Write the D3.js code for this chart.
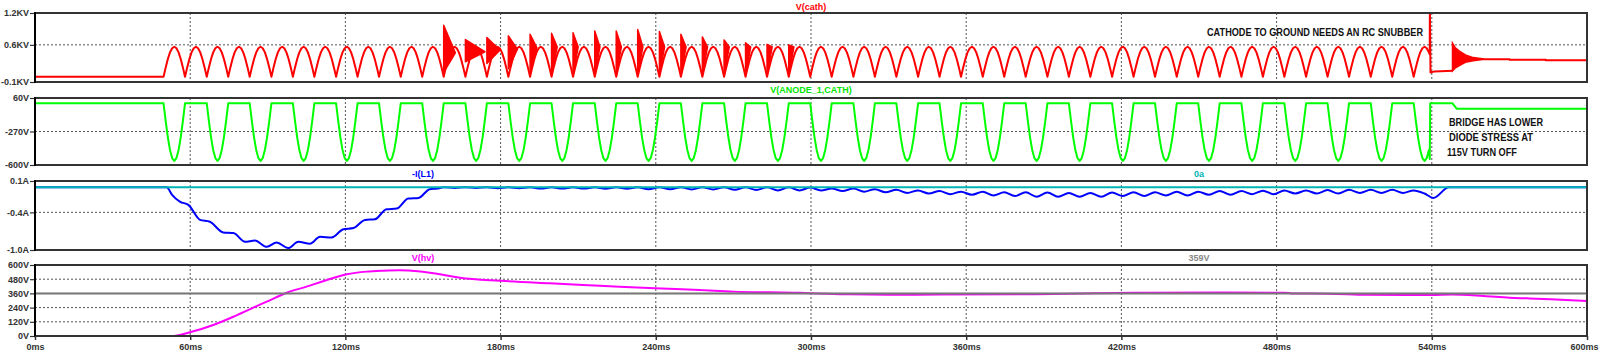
<!DOCTYPE html>
<html><head><meta charset="utf-8">
<script src="https://cdn.jsdelivr.net/npm/d3@7"></script>
<style>
body{margin:0;background:#fff}
text{font-family:"Liberation Sans",Arial,sans-serif}
</style>
</head><body>
<svg id="c" width="1600" height="358"></svg>
<script>
// ---------------- DATA ----------------
const xTicks = [0,60,120,180,240,300,360,420,480,540,600];
const xTickLabels = ["0ms","60ms","120ms","180ms","240ms","300ms","360ms","420ms","480ms","540ms","600ms"];

const cathTicks = [1.2,0.6,-0.1];
const cathTickLabels = ["1.2KV","0.6KV","-0.1KV"];
const anodeTicks = [60,-270,-600];
const anodeTickLabels = ["60V","-270V","-600V"];
const curTicks = [0.1,-0.4,-1.0];
const curTickLabels = ["0.1A","-0.4A","-1.0A"];
const hvTicks = [600,480,360,240,120,0];
const hvTickLabels = ["600V","480V","360V","240V","120V","0V"];

// rectifier half-cycle boundaries (ms) read from the troughs of V(cath)
const troughs = [49.7,58.0,66.4,74.7,83.0,91.4,99.7,108.0,116.4,124.7,
  133.0,141.4,149.7,158.0,166.4,174.7,183.0,191.4,199.7,208.0,
  216.4,224.7,233.0,241.4,249.7,258.0,266.4,274.7,283.0,291.4,
  299.7,308.0,316.4,324.7,333.0,341.4,349.7,358.0,366.4,374.7,
  383.0,391.4,399.7,408.0,416.4,424.7,433.0,441.4,449.7,458.0,
  466.4,474.7,483.0,491.4,499.7,508.0,516.4,524.7,533.0,541.4];
// half-sine hump outline (fraction of the half-cycle, relative height)
const humpFrac  = [0,0.1,0.2,0.3,0.4,0.5,0.6,0.7,0.8,0.9,1];
const humpShape = [0,0.31,0.59,0.81,0.95,1,0.95,0.81,0.59,0.31,0];

// V(cath) in kV
const cathBase = 0.0, cathPeak = 0.565, cathCut = 539.2;
const spikeHump = [13,14,15,16,17,18,19,20,21,22,23,24,25,26,27,28,29];
const spikeTop  = [0.97,0.70,0.74,0.77,0.80,0.82,0.83,0.86,0.86,0.89,0.85,0.80,0.75,0.69,0.64,0.61,0.60];
const spikeBot  = [0.08,0.28,0.25,0.15,0.06,0.04,0.03,0.03,0.03,0.03,0.03,0.03,0.03,0.03,0.03,0.03,0.03];
const spikeLen  = [4.5,7.5,5.0,3.5,2.6,2.2,2.0,2.0,2.0,2.0,2.0,2.0,2.0,2.0,2.0,2.0,2.0];
const spikeEnd  = [0.45,0.47,0.50,0.52,0.55,0.56,0.56,0.56,0.56,0.56,0.56,0.56,0.56,0.56,0.56,0.56,0.56];
const cathTailT = [539.2,539.25,539.5,541.0,548.0];
const cathTailV = [0.42,1.35,0.08,0.10,0.11];
const ringT     = [548.0,549.0,551.0,553.0,556.0,560.0];
const ringHi    = [0.63,0.55,0.47,0.41,0.36,0.335];
const ringLo    = [0.11,0.16,0.22,0.27,0.30,0.325];
const cathEndT  = [560,570,570.1,584,584.1,600];
const cathEndV  = [0.33,0.33,0.32,0.32,0.31,0.31];

// V(ANODE_1,CATH) in V
const anodeTop = 8, anodeBottom = -560;
const anodeTailT = [539.2,539.4,548.0,549.6,600];
const anodeTailV = [-540,8,8,-45,-45];

// -I(L1) in A
const curRampT = [0,50.9,53,56,59.3,63.8,67.6,72.8,76.7,81.2,85,89.6,93.4,97.9,101.8,106.3,110.2,114.7,119.2,123.1,127.6,131.4,135.9,139.8,144.3,148.3,152.6,155.5];
const curRampV = [0,0,-0.12,-0.23,-0.28,-0.52,-0.55,-0.72,-0.73,-0.87,-0.85,-0.95,-0.88,-0.97,-0.87,-0.90,-0.79,-0.80,-0.67,-0.65,-0.52,-0.51,-0.35,-0.34,-0.18,-0.17,-0.03,-0.02];
const curHi = [0,0,0,0,0,0,0,0,0,0,0,0,0,0,0,0,0,
  -0.005,-0.02,-0.02,-0.03,-0.04,-0.05,-0.06,-0.07,-0.07,-0.08,-0.08,-0.085,-0.09,-0.09,
  -0.085,-0.08,-0.08,-0.07,-0.07,-0.06,-0.06,-0.055,-0.05,-0.05,-0.045,-0.04,-0.04,-0.04,-0.05];
const curLo = [-0.01,-0.01,-0.015,-0.015,-0.02,-0.02,-0.02,-0.025,-0.025,-0.03,-0.03,-0.035,-0.035,-0.04,-0.045,-0.05,-0.05,
  -0.05,-0.06,-0.07,-0.08,-0.09,-0.10,-0.11,-0.12,-0.13,-0.14,-0.15,-0.15,-0.15,-0.15,
  -0.14,-0.14,-0.13,-0.13,-0.12,-0.12,-0.11,-0.11,-0.10,-0.10,-0.10,-0.09,-0.09,-0.09,-0.10];
const curRippleFirst = 13;
const curTailT = [540.6,546.6,600];
const curTailV = [-0.17,0,0];
const zeroRefV = 0;

// V(hv) in V
const hvT = [0,53.5,59.9,68.9,76.7,84.4,89.6,97.3,105,112.8,120.5,128.2,134.6,141,148,154,164.3,179.8,199,218.4,239.7,257,270,293,300,315,330,350,380,400,410,430,460,483,486,500,515,530,540,547.6,560,570,577,586,600];
const hvV = [0,0,31,93,163,240,290,366,417,473,521,544,552,556,548,530,493,467,445,425,403,389,375,366,362,352,349,350,352,356,362,366,367,366,359,358,348,347,347,350,338,324,318,310,296];
const hvCursor = 359;

// ---------------- DRAW ----------------
const svg = d3.select("#c");
const L = 35, R = 1587;
const x = d3.scaleLinear().domain([0,600]).range([L,R]);
const panes = [
  {y: d3.scaleLinear().domain([-0.1,1.2]).range([82,13]), ticks: cathTicks, labels: cathTickLabels, grid:[0.6]},
  {y: d3.scaleLinear().domain([-600,60]).range([165,98]), ticks: anodeTicks, labels: anodeTickLabels, grid:[-270]},
  {y: d3.scaleLinear().domain([-1.0,0.1]).range([250,181]), ticks: curTicks, labels: curTickLabels, grid:[-0.4]},
  {y: d3.scaleLinear().domain([0,600]).range([336,265]), ticks: hvTicks, labels: hvTickLabels, grid:[120,240,360,480]}
];
const defs = svg.append("defs");
panes.forEach((p,i)=>{
  const [b,t] = p.y.range();
  defs.append("clipPath").attr("id","clip"+i).append("rect")
    .attr("x",L).attr("y",t).attr("width",R-L).attr("height",b-t);
  p.g = svg.append("g");
  p.g.selectAll(".vg").data(xTicks.slice(1,-1)).join("line")
    .attr("x1",d=>x(d)).attr("x2",d=>x(d)).attr("y1",t).attr("y2",b)
    .attr("stroke","#555").attr("stroke-width",1).attr("stroke-dasharray","2,2");
  p.g.selectAll(".hg").data(p.grid).join("line")
    .attr("x1",L).attr("x2",R).attr("y1",d=>p.y(d)).attr("y2",d=>p.y(d))
    .attr("stroke","#555").attr("stroke-width",1).attr("stroke-dasharray","2,2");
  const ax = d3.axisLeft(p.y).tickValues(p.ticks).tickFormat((d,j)=>p.labels[j]).tickSize(5).tickPadding(1);
  const ga = svg.append("g").attr("transform",`translate(${L},0)`).call(ax);
  ga.select(".domain").remove();
  ga.selectAll("line").attr("stroke","#333").attr("stroke-width",1.2);
  ga.selectAll("text").attr("font-size",9).attr("font-weight","bold").attr("fill","#333")
    .attr("font-family","'Liberation Sans',Arial,sans-serif");
  p.plot = svg.append("g").attr("clip-path",`url(#clip${i})`);
});

function hump(t0,t1,base,amp,cut){
  const pts=[];
  humpFrac.forEach((f,i)=>{
    const t=t0+(t1-t0)*f;
    if(cut!==undefined && t>cut) return;
    pts.push([t, base+amp*humpShape[i]]);
  });
  return pts;
}
const lineGen = (y,curve)=>d3.line().x(d=>x(d[0])).y(d=>y(d[1])).curve(curve||d3.curveLinear);

// Pane 1: V(cath)
{
  const p=panes[0];
  let pts=[[0,cathBase],[troughs[0],cathBase]];
  for(let k=0;k<troughs.length-1;k++){
    const cut = troughs[k+1]>cathCut ? cathCut : undefined;
    pts = pts.concat(hump(troughs[k],troughs[k+1],cathBase,cathPeak-cathBase,cut).slice(1));
  }
  cathTailT.forEach((t,i)=>pts.push([t,cathTailV[i]]));
  const ringPoly = ringT.map((t,i)=>[t,ringHi[i]]).concat(ringT.map((t,i)=>[t,ringLo[i]]).reverse());
  cathEndT.forEach((t,i)=>pts.push([t,cathEndV[i]]));
  p.plot.append("path").attr("d",lineGen(p.y)(pts.filter(d=>d[0]<=548))).attr("fill","none")
    .attr("stroke","#ff0000").attr("stroke-width",2).attr("stroke-linejoin","round");
  p.plot.append("path").attr("d",lineGen(p.y)(pts.filter(d=>d[0]>=560))).attr("fill","none")
    .attr("stroke","#ff0000").attr("stroke-width",2);
  p.plot.append("path").attr("d",lineGen(p.y)(ringPoly)+"Z").attr("fill","#ff0000")
    .attr("stroke","#ff0000").attr("stroke-width",1.5);
  spikeHump.forEach((k,i)=>{
    const t=troughs[k];
    const poly=[[t,spikeBot[i]],[t,spikeTop[i]],[t+spikeLen[i],spikeEnd[i]]];
    p.plot.append("path").attr("d",lineGen(p.y)(poly)+"Z").attr("fill","#ff0000")
      .attr("stroke","#ff0000").attr("stroke-width",1.5).attr("stroke-linejoin","round");
  });
}
// Pane 2: V(ANODE_1,CATH)
{
  const p=panes[1];
  let pts=[[0,anodeTop]];
  for(let k=0;k<troughs.length-1;k+=2){
    const cut = troughs[k+1]>cathCut ? cathCut : undefined;
    pts = pts.concat(hump(troughs[k],troughs[k+1],anodeTop,anodeBottom-anodeTop,cut));
  }
  anodeTailT.forEach((t,i)=>pts.push([t,anodeTailV[i]]));
  p.plot.append("path").attr("d",lineGen(p.y)(pts)).attr("fill","none")
    .attr("stroke","#00ff00").attr("stroke-width",2).attr("stroke-linejoin","round");
}
// Pane 3: -I(L1) and 0a
{
  const p=panes[2];
  let pts=curRampT.map((t,i)=>[t,curRampV[i]]);
  curHi.forEach((v,i)=>{
    const k=curRippleFirst+i;
    pts.push([troughs[k],v]);
    pts.push([(troughs[k]+troughs[k+1])/2,curLo[i]]);
  });
  curTailT.forEach((t,i)=>pts.push([t,curTailV[i]]));
  p.plot.append("path").attr("d",lineGen(p.y,d3.curveMonotoneX)(pts)).attr("fill","none")
    .attr("stroke","#0000ff").attr("stroke-width",2);
  p.plot.append("path").attr("d",lineGen(p.y)([[0,zeroRefV],[600,zeroRefV]])).attr("fill","none")
    .attr("stroke","#00b4b4").attr("stroke-width",2);
}
// Pane 4: V(hv)
{
  const p=panes[3];
  const pts=hvT.map((t,i)=>[t,hvV[i]]);
  p.plot.append("path").attr("d",lineGen(p.y,d3.curveMonotoneX)(pts)).attr("fill","none")
    .attr("stroke","#ff00ff").attr("stroke-width",2);
  p.plot.append("line").attr("x1",L).attr("x2",R).attr("y1",p.y(hvCursor)).attr("y2",p.y(hvCursor))
    .attr("stroke","#777").attr("stroke-width",2);
}
// frames
panes.forEach(p=>{
  const [b,t]=p.y.range();
  svg.append("rect").attr("x",L).attr("y",t).attr("width",R-L).attr("height",b-t)
    .attr("fill","none").attr("stroke","#333").attr("stroke-width",2);
  svg.append("line").attr("x1",L).attr("x2",L).attr("y1",t-1).attr("y2",b+1)
    .attr("stroke","#000").attr("stroke-width",2);
});
// x axis
{
  const y4=panes[3].y;
  const ax=d3.axisBottom(x).tickValues(xTicks).tickFormat((d,i)=>xTickLabels[i]).tickSize(4).tickPadding(4);
  const g=svg.append("g").attr("transform",`translate(0,${y4.range()[0]})`).call(ax);
  g.select(".domain").remove();
  g.selectAll("line").attr("stroke","#333").attr("stroke-width",1.5);
  g.selectAll("text").attr("font-size",9).attr("font-weight","bold").attr("fill","#333")
    .attr("font-family","'Liberation Sans',Arial,sans-serif");
  g.selectAll("text").filter((d,i)=>i===xTicks.length-1).attr("text-anchor","end").attr("dx",11);
}
// trace titles
const titles=[
  {t:"V(cath)",x:300,y:10,c:"#ff0000"},
  {t:"V(ANODE_1,CATH)",x:300,y:93,c:"#00e600"},
  {t:"-I(L1)",x:150,y:177,c:"#0000ff"},
  {t:"0a",x:450,y:177,c:"#00b4b4"},
  {t:"V(hv)",x:150,y:261,c:"#ff00ff"},
  {t:"359V",x:450,y:261,c:"#888"}
];
svg.selectAll(".ttl").data(titles).join("text").attr("x",d=>x(d.x)).attr("y",d=>d.y)
  .attr("text-anchor","middle").attr("font-size",9).attr("font-weight","bold").attr("fill",d=>d.c).text(d=>d.t);
// notes
const notes=[
  {t:"CATHODE TO GROUND NEEDS AN RC SNUBBER",x:1207,y:35.5,w:216},
  {t:"BRIDGE HAS LOWER",x:1449,y:126,w:94},
  {t:"DIODE STRESS AT",x:1449,y:140.5,w:84},
  {t:"115V TURN OFF",x:1447,y:156,w:70}
];
svg.selectAll(".note").data(notes).join("text").attr("x",d=>d.x).attr("y",d=>d.y)
  .attr("font-size",10).attr("font-weight","bold").attr("fill","#111")
  .attr("textLength",d=>d.w).attr("lengthAdjust","spacingAndGlyphs").text(d=>d.t);
</script>
</body></html>
